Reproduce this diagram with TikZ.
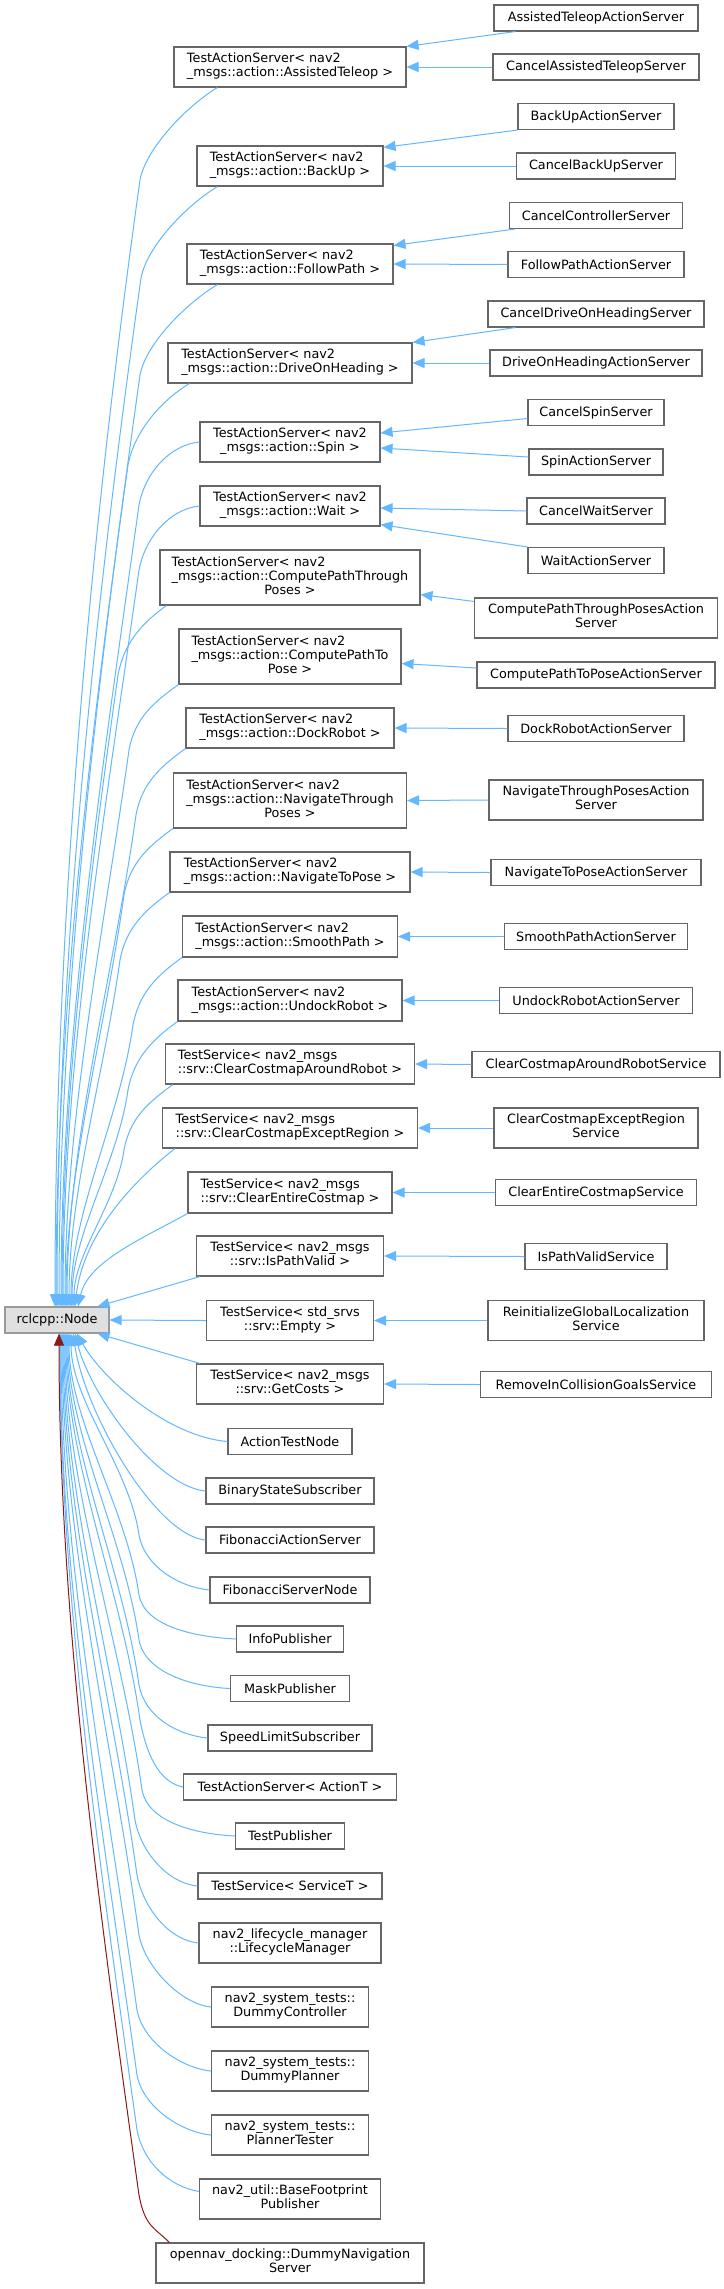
\documentclass[tikz,border=0pt]{standalone}
\usepackage{fontspec}
\setmainfont{DejaVu Sans}
\usetikzlibrary{arrows.meta,calc}
\definecolor{edgeblue}{HTML}{63B8FF}
\definecolor{boxgray}{HTML}{666666}
\definecolor{privred}{HTML}{8B1A1A}
\definecolor{basefill}{HTML}{E0E0E0}
\definecolor{baseborder}{HTML}{999999}
\newcommand{\twol}[2]{\begin{tabular}{@{}l@{}}#1\\\multicolumn{1}{@{}c@{}}{#2}\end{tabular}}
\newcommand{\threel}[3]{\begin{tabular}{@{}l@{}}#1\\#2\\\multicolumn{1}{@{}c@{}}{#3}\end{tabular}}
\newcommand{\UpEdge}[6]{\draw[#1] #2 .. controls +#3 and +(6,-32) .. #4 .. controls +(-0.14*#5,#5) and +(0,-#5) .. #6;}
\newcommand{\LowEdge}[6]{\draw[#1] #2 .. controls +#3 and +(6,32) .. #4 .. controls +(-0.14*#5,-#5) and +(0,#5) .. #6;}
\tikzset{
  box/.style={draw=boxgray, line width=1.1pt, fill=white, inner sep=0pt, font=\fontsize{12.8}{14.2}\selectfont},
  basebox/.style={draw=baseborder, line width=1.1pt, fill=basefill, inner sep=0pt, font=\fontsize{12.8}{14.2}\selectfont},
  inh/.style={draw=edgeblue, line width=1pt, -{Triangle[length=12pt,width=10pt]}},
  priv/.style={draw=privred, line width=1pt, -{Triangle[length=12pt,width=10pt]}}
}
\begin{document}
\begin{tikzpicture}[x=1pt,y=-1pt]
\fill[white] (0,0) rectangle (723,2289);
\useasboundingbox (0,0) rectangle (723,2289);

% base
\node[basebox,minimum width=104pt,minimum height=26pt] (rcl) at (57,1320) {rclcpp::Node};

% column 2
\node[box,minimum width=232pt,minimum height=40pt] (A) at (290,67) {\twol{TestActionServer< nav2}{\_msgs::action::AssistedTeleop >}};
\node[box,minimum width=186pt,minimum height=40pt] (B) at (290,166) {\twol{TestActionServer< nav2}{\_msgs::action::BackUp >}};
\node[box,minimum width=206pt,minimum height=40pt] (C) at (290,264) {\twol{TestActionServer< nav2}{\_msgs::action::FollowPath >}};
\node[box,minimum width=244pt,minimum height=40pt] (D) at (290,363) {\twol{TestActionServer< nav2}{\_msgs::action::DriveOnHeading >}};
\node[box,minimum width=180pt,minimum height=40pt] (E) at (290,442) {\twol{TestActionServer< nav2}{\_msgs::action::Spin >}};
\node[box,minimum width=180pt,minimum height=40pt] (F) at (290,506) {\twol{TestActionServer< nav2}{\_msgs::action::Wait >}};
\node[box,minimum width=260pt,minimum height=55pt] (G) at (290,577.5) {\threel{TestActionServer< nav2}{\_msgs::action::ComputePathThrough}{Poses >}};
\node[box,minimum width=222pt,minimum height=55pt] (H) at (290,656.5) {\threel{TestActionServer< nav2}{\_msgs::action::ComputePathTo}{Pose >}};
\node[box,minimum width=208pt,minimum height=40pt] (I) at (290,728) {\twol{TestActionServer< nav2}{\_msgs::action::DockRobot >}};
\node[box,minimum width=233pt,minimum height=55pt] (J) at (290,800.5) {\threel{TestActionServer< nav2}{\_msgs::action::NavigateThrough}{Poses >}};
\node[box,minimum width=240pt,minimum height=40pt] (K) at (290,872) {\twol{TestActionServer< nav2}{\_msgs::action::NavigateToPose >}};
\node[box,minimum width=215pt,minimum height=41pt] (L) at (290,936.5) {\twol{TestActionServer< nav2}{\_msgs::action::SmoothPath >}};
\node[box,minimum width=224pt,minimum height=41pt] (M) at (290,1000.5) {\twol{TestActionServer< nav2}{\_msgs::action::UndockRobot >}};
\node[box,minimum width=249pt,minimum height=40pt] (N) at (290,1064) {\twol{TestService< nav2\_msgs}{::srv::ClearCostmapAroundRobot >}};
\node[box,minimum width=255pt,minimum height=40pt] (O) at (290,1128) {\twol{TestService< nav2\_msgs}{::srv::ClearCostmapExceptRegion >}};
\node[box,minimum width=204pt,minimum height=41pt] (P) at (290,1192.5) {\twol{TestService< nav2\_msgs}{::srv::ClearEntireCostmap >}};
\node[box,minimum width=187pt,minimum height=40pt] (Q) at (290,1256) {\twol{TestService< nav2\_msgs}{::srv::IsPathValid >}};
\node[box,minimum width=167pt,minimum height=40pt] (R) at (290,1320.5) {\twol{TestService< std\_srvs}{::srv::Empty >}};
\node[box,minimum width=187pt,minimum height=40pt] (S) at (290,1384) {\twol{TestService< nav2\_msgs}{::srv::GetCosts >}};
\node[box,minimum width=124pt,minimum height=26pt] (T) at (290,1441.5) {ActionTestNode};
\node[box,minimum width=168pt,minimum height=26pt] (U) at (290,1491) {BinaryStateSubscriber};
\node[box,minimum width=168pt,minimum height=26pt] (V) at (290,1540) {FibonacciActionServer};
\node[box,minimum width=160pt,minimum height=26pt] (W) at (290,1590) {FibonacciServerNode};
\node[box,minimum width=107pt,minimum height=26pt] (X) at (290,1639) {InfoPublisher};
\node[box,minimum width=119pt,minimum height=26pt] (Y) at (290,1688.5) {MaskPublisher};
\node[box,minimum width=164pt,minimum height=26pt] (Z) at (290,1738) {SpeedLimitSubscriber};
\node[box,minimum width=213pt,minimum height=26pt] (AA) at (290,1787) {TestActionServer< ActionT >};
\node[box,minimum width=109pt,minimum height=26pt] (AB) at (290,1836) {TestPublisher};
\node[box,minimum width=184pt,minimum height=26pt] (AC) at (290,1886) {TestService< ServiceT >};
\node[box,minimum width=182pt,minimum height=40pt] (AD) at (290,1943) {\twol{nav2\_lifecycle\_manager}{::LifecycleManager}};
\node[box,minimum width=157pt,minimum height=40pt] (AE) at (290,2007) {\twol{nav2\_system\_tests::}{DummyController}};
\node[box,minimum width=157pt,minimum height=40pt] (AF) at (290,2071) {\twol{nav2\_system\_tests::}{DummyPlanner}};
\node[box,minimum width=157pt,minimum height=40pt] (AG) at (290,2135) {\twol{nav2\_system\_tests::}{PlannerTester}};
\node[box,minimum width=181pt,minimum height=40pt] (AH) at (290,2199) {\twol{nav2\_util::BaseFootprint}{Publisher}};
\node[box,minimum width=268pt,minimum height=40pt] (AI) at (290,2263) {\twol{opennav\_docking::DummyNavigation}{Server}};

% column 3
\node[box,minimum width=204pt,minimum height=26pt] (c1) at (596,18) {AssistedTeleopActionServer};
\node[box,minimum width=206pt,minimum height=26pt] (c2) at (596,67) {CancelAssistedTeleopServer};
\node[box,minimum width=156pt,minimum height=26pt] (c3) at (596,116.5) {BackUpActionServer};
\node[box,minimum width=159pt,minimum height=26pt] (c4) at (596,166) {CancelBackUpServer};
\node[box,minimum width=173pt,minimum height=26pt] (c5) at (596,215.5) {CancelControllerServer};
\node[box,minimum width=176pt,minimum height=26pt] (c6) at (596,264.5) {FollowPathActionServer};
\node[box,minimum width=216pt,minimum height=26pt] (c7) at (596,314) {CancelDriveOnHeadingServer};
\node[box,minimum width=212pt,minimum height=26pt] (c8) at (596,363) {DriveOnHeadingActionServer};
\node[box,minimum width=136pt,minimum height=26pt] (c9) at (596,412.5) {CancelSpinServer};
\node[box,minimum width=134pt,minimum height=26pt] (c10) at (596,462) {SpinActionServer};
\node[box,minimum width=138pt,minimum height=26pt] (c11) at (596,511) {CancelWaitServer};
\node[box,minimum width=136pt,minimum height=26pt] (c12) at (596,560.5) {WaitActionServer};
\node[box,minimum width=243pt,minimum height=40pt] (c13) at (596,618) {\twol{ComputePathThroughPosesAction}{Server}};
\node[box,minimum width=238pt,minimum height=26pt] (c14) at (596,675) {ComputePathToPoseActionServer};
\node[box,minimum width=176pt,minimum height=26pt] (c15) at (596,728.5) {DockRobotActionServer};
\node[box,minimum width=214pt,minimum height=40pt] (c16) at (596,800) {\twol{NavigateThroughPosesAction}{Server}};
\node[box,minimum width=210pt,minimum height=26pt] (c17) at (596,872.5) {NavigateToPoseActionServer};
\node[box,minimum width=183pt,minimum height=26pt] (c18) at (596,936.5) {SmoothPathActionServer};
\node[box,minimum width=193pt,minimum height=26pt] (c19) at (596,1000.5) {UndockRobotActionServer};
\node[box,minimum width=248pt,minimum height=26pt] (c20) at (596,1064.5) {ClearCostmapAroundRobotService};
\node[box,minimum width=204pt,minimum height=40pt] (c21) at (596,1128) {\twol{ClearCostmapExceptRegion}{Service}};
\node[box,minimum width=201pt,minimum height=26pt] (c22) at (596,1192.5) {ClearEntireCostmapService};
\node[box,minimum width=142pt,minimum height=26pt] (c23) at (596,1256.5) {IsPathValidService};
\node[box,minimum width=216pt,minimum height=40pt] (c24) at (596,1320.5) {\twol{ReinitializeGlobalLocalization}{Service}};
\node[box,minimum width=231pt,minimum height=26pt] (c25) at (596,1384.5) {RemoveInCollisionGoalsService};

% column 3 -> column 2
\draw[inh] ($(c1.south west)+(22,0)$) -- (A.north east);
\draw[inh] (c2.west) -- (A.east);
\draw[inh] (c3.south west) -- ($(B.north east)+(0,2)$);
\draw[inh] (c4.west) -- (B.east);
\draw[inh] ($(c5.south west)+(6,0)$) -- ($(C.north east)+(0,2)$);
\draw[inh] (c6.west) -- (C.east);
\draw[inh] ($(c7.south west)+(28,0)$) -- (D.north east);
\draw[inh] (c8.west) -- (D.east);
\draw[inh] ($(c9.west)+(0,6)$) -- ($(E.east)+(0,-9)$);
\draw[inh] ($(c10.west)+(0,-5)$) -- ($(E.east)+(0,6)$);
\draw[inh] (c11.west) -- ($(F.east)+(0,2)$);
\draw[inh] (c12.north west) -- ($(F.south east)+(0,-2)$);
\draw[inh] ($(c13.north west)+(0,4)$) -- ($(G.south east)+(0,-11)$);
\draw[inh] ($(c14.west)+(0,-7)$) -- ($(H.east)+(0,7)$);
\draw[inh] (c15.west) -- (I.east);
\draw[inh] (c16.west) -- (J.east);
\draw[inh] (c17.west) -- (K.east);
\draw[inh] (c18.west) -- (L.east);
\draw[inh] (c19.west) -- (M.east);
\draw[inh] (c20.west) -- (N.east);
\draw[inh] (c21.west) -- (O.east);
\draw[inh] (c22.west) -- (P.east);
\draw[inh] (c23.west) -- (Q.east);
\draw[inh] (c24.west) -- (R.east);
\draw[inh] (c25.west) -- (S.east);

% column 2 -> base (above)
\UpEdge{inh}{($(A.south west)+(44,0)$)}{(-30,18)}{(140,180)}{372}{($(rcl.north)+(-2,0)$)}
\UpEdge{inh}{($(B.south west)+(21,0)$)}{(-30,18)}{(141,278)}{340}{(rcl.north)}
\UpEdge{inh}{($(C.south west)+(31,0)$)}{(-30,18)}{(140,375)}{308}{($(rcl.north)+(2,0)$)}
\UpEdge{inh}{($(D.south west)+(22,0)$)}{(-30,18)}{(128,465)}{278}{($(rcl.north)+(-1,0)$)}
\UpEdge{inh}{(E.west)}{(-30,3)}{(139,505)}{265}{($(rcl.north)+(4,0)$)}
\UpEdge{inh}{(F.west)}{(-30,3)}{(139,570)}{243}{($(rcl.north)+(6,0)$)}
\UpEdge{inh}{($(G.south west)+(7,0)$)}{(-25,18)}{(118,675)}{209}{($(rcl.north)+(5,0)$)}
\UpEdge{inh}{(H.south west)}{(-25,18)}{(129,750)}{184}{($(rcl.north)+(8,0)$)}
\UpEdge{inh}{(I.south west)}{(-25,18)}{(136,815)}{162}{($(rcl.north)+(10,0)$)}
\UpEdge{inh}{(J.south west)}{(-25,18)}{(124,895)}{136}{($(rcl.north)+(9,0)$)}
\UpEdge{inh}{(K.south west)}{(-25,18)}{(120,960)}{115}{($(rcl.north)+(12,0)$)}
\UpEdge{inh}{(L.south west)}{(-25,18)}{(133,1025)}{93}{($(rcl.north)+(14,0)$)}
\UpEdge{inh}{(M.south west)}{(-25,18)}{(128,1090)}{72}{($(rcl.north)+(15,0)$)}
\UpEdge{inh}{($(N.south west)+(8,0)$)}{(-25,18)}{(124,1150)}{52}{($(rcl.north)+(17,0)$)}
\draw[inh] ($(O.south west)+(13,0)$) .. controls +(-45,35) and +(8,-70) .. ($(rcl.north)+(18,0)$);
\draw[inh] (P.south west) .. controls +(-45,25) and +(10,-45) .. ($(rcl.north)+(21,0)$);
\draw[inh] ($(Q.south west)+(4,0)$) -- ($(rcl.north east)+(-12,0)$);
\draw[inh] (R.west) -- (rcl.east);
\draw[inh] ($(S.north west)+(4,0)$) -- ($(rcl.south east)+(-12,0)$);

% column 2 -> base (below)
\draw[inh] (T.west) .. controls +(-60,-5) and +(25,45) .. ($(rcl.south)+(20,0)$);
\draw[inh] (U.west) .. controls +(-50,-5) and +(15,60) .. ($(rcl.south)+(18,0)$);
\draw[inh] (V.west) .. controls +(-50,-5) and +(12,80) .. ($(rcl.south)+(16,0)$);
\LowEdge{inh}{(W.west)}{(-30,-3)}{(139,1535)}{67}{($(rcl.south)+(14,0)$)}
\LowEdge{inh}{(X.west)}{(-40,-2)}{(139,1595)}{86}{($(rcl.south)+(12,0)$)}
\LowEdge{inh}{(Y.west)}{(-40,-2)}{(139,1640)}{101}{($(rcl.south)+(11,0)$)}
\LowEdge{inh}{(Z.west)}{(-30,-3)}{(139,1685)}{116}{($(rcl.south)+(10,0)$)}
\LowEdge{inh}{(AA.west)}{(-25,-5)}{(140,1720)}{128}{($(rcl.south)+(9,0)$)}
\LowEdge{inh}{(AB.west)}{(-40,-2)}{(142,1790)}{151}{($(rcl.south)+(8,0)$)}
\LowEdge{inh}{(AC.west)}{(-30,-3)}{(135,1820)}{161}{($(rcl.south)+(7,0)$)}
\LowEdge{inh}{(AD.west)}{(-30,-3)}{(137,1875)}{179}{($(rcl.south)+(6,0)$)}
\LowEdge{inh}{(AE.west)}{(-30,-3)}{(139,1935)}{199}{($(rcl.south)+(5,0)$)}
\LowEdge{inh}{(AF.west)}{(-30,-3)}{(137,2010)}{223}{($(rcl.south)+(4,0)$)}
\LowEdge{inh}{(AG.west)}{(-30,-3)}{(137,2075)}{245}{($(rcl.south)+(3,0)$)}
\LowEdge{inh}{($(AH.north west)+(0,13)$)}{(-30,-5)}{(137,2130)}{263}{($(rcl.south)+(3,0)$)}
\LowEdge{priv}{($(AI.north west)+(14,0)$)}{(-15,-15)}{(139,2195)}{284}{($(rcl.south)+(2,0)$)}
\end{tikzpicture}
\end{document}
